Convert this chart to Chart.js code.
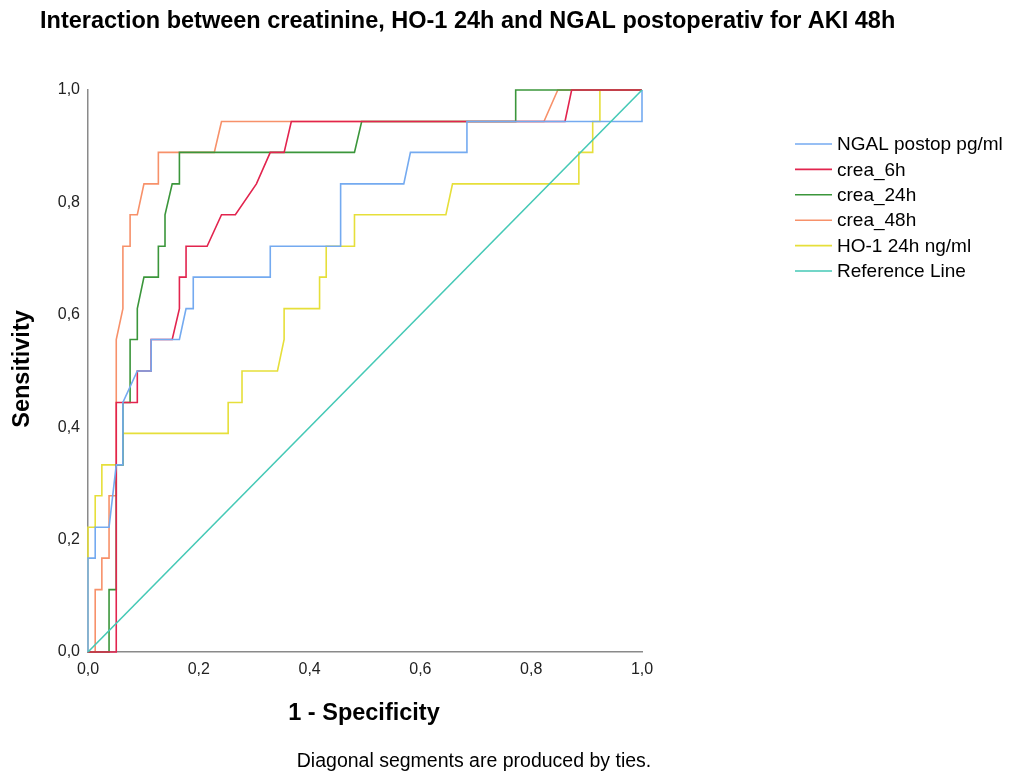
<!DOCTYPE html>
<html>
<head>
<meta charset="utf-8">
<script src="https://cdn.jsdelivr.net/npm/chart.js@4"></script>
<style>
  html, body { margin: 0; padding: 0; background: #fff; }
  canvas { display: block; }
</style>
</head>
<body>
<canvas id="roc" width="1018" height="776"></canvas>
<script>
// ROC curves, x = 1 - specificity, y = sensitivity
const ngalX = [0, 0, 0.013, 0.013, 0.038, 0.051, 0.063, 0.063, 0.089, 0.114, 0.114, 0.165, 0.177, 0.190, 0.190, 0.329, 0.329, 0.456, 0.456, 0.570, 0.582, 0.684, 0.684, 1, 1];
const ngalY = [0, 0.167, 0.167, 0.222, 0.222, 0.333, 0.333, 0.444, 0.5, 0.5, 0.556, 0.556, 0.611, 0.611, 0.667, 0.667, 0.722, 0.722, 0.833, 0.833, 0.889, 0.889, 0.944, 0.944, 1];

const crea6X = [0, 0.051, 0.051, 0.089, 0.089, 0.114, 0.114, 0.152, 0.165, 0.165, 0.177, 0.177, 0.215, 0.241, 0.266, 0.304, 0.329, 0.354, 0.367, 0.861, 0.873, 1];
const crea6Y = [0, 0, 0.444, 0.444, 0.5, 0.5, 0.556, 0.556, 0.611, 0.667, 0.667, 0.722, 0.722, 0.778, 0.778, 0.833, 0.889, 0.889, 0.944, 0.944, 1, 1];

const crea24X = [0, 0.038, 0.038, 0.051, 0.051, 0.063, 0.063, 0.076, 0.076, 0.089, 0.089, 0.101, 0.127, 0.127, 0.139, 0.139, 0.152, 0.165, 0.165, 0.481, 0.494, 0.772, 0.772, 1];
const crea24Y = [0, 0, 0.111, 0.111, 0.333, 0.333, 0.444, 0.444, 0.556, 0.556, 0.611, 0.667, 0.667, 0.722, 0.722, 0.778, 0.833, 0.833, 0.889, 0.889, 0.944, 0.944, 1, 1];

const crea48X = [0, 0.013, 0.013, 0.025, 0.025, 0.038, 0.038, 0.051, 0.051, 0.063, 0.063, 0.076, 0.076, 0.089, 0.101, 0.127, 0.127, 0.228, 0.241, 0.823, 0.848, 1];
const crea48Y = [0, 0, 0.111, 0.111, 0.167, 0.167, 0.278, 0.278, 0.556, 0.611, 0.722, 0.722, 0.778, 0.778, 0.833, 0.833, 0.889, 0.889, 0.944, 0.944, 1, 1];

const ho1X = [0, 0, 0.013, 0.013, 0.025, 0.025, 0.063, 0.063, 0.253, 0.253, 0.278, 0.278, 0.342, 0.354, 0.354, 0.418, 0.418, 0.430, 0.430, 0.481, 0.481, 0.646, 0.658, 0.886, 0.886, 0.911, 0.911, 0.924, 0.924, 1];
const ho1Y = [0, 0.222, 0.222, 0.278, 0.278, 0.333, 0.333, 0.389, 0.389, 0.444, 0.444, 0.5, 0.5, 0.556, 0.611, 0.611, 0.667, 0.667, 0.722, 0.722, 0.778, 0.778, 0.833, 0.833, 0.889, 0.889, 0.944, 0.944, 1, 1];

const refX = [0, 1];
const refY = [0, 1];

const seriesNames = ["NGAL postop pg/ml", "crea_6h", "crea_24h", "crea_48h", "HO-1 24h ng/ml", "Reference Line"];
const seriesColors = ["#74aaf0", "#e2244e", "#3b963b", "#f7916a", "#e6df3a", "#45c9b6"];
const tickValues = [0, 0.2, 0.4, 0.6, 0.8, 1.0];

const FONT = "'Liberation Sans', Arial, sans-serif";

function toPoints(xs, ys) {
  return xs.map((x, i) => ({ x: x, y: ys[i] }));
}

const allX = [ngalX, crea6X, crea24X, crea48X, ho1X, refX];
const allY = [ngalY, crea6Y, crea24Y, crea48Y, ho1Y, refY];

const datasets = seriesNames.map((name, i) => ({
  label: name,
  data: toPoints(allX[i], allY[i]),
  borderColor: seriesColors[i],
  borderWidth: 1.6,
  pointRadius: 0,
  showLine: true,
  tension: 0,
  clip: false,
  order: i === 5 ? -1 : i,
}));

// texts and legend drawn around the plot
const decorPlugin = {
  id: "decor",
  afterDraw(chart) {
    const ctx = chart.ctx;
    ctx.save();
    ctx.fillStyle = "#000";
    ctx.textBaseline = "middle";

    ctx.font = "bold 23.5px " + FONT;
    ctx.textAlign = "left";
    ctx.fillText("Interaction between creatinine, HO-1 24h and NGAL postoperativ for AKI 48h", 40, 22);

    ctx.font = "bold 23.5px " + FONT;
    ctx.textAlign = "center";
    ctx.fillText("1 - Specificity", 364, 714);

    ctx.save();
    ctx.translate(23, 369);
    ctx.rotate(-Math.PI / 2);
    ctx.fillText("Sensitivity", 0, 0);
    ctx.restore();

    ctx.font = "19.5px " + FONT;
    ctx.fillText("Diagonal segments are produced by ties.", 474, 762);

    // legend
    ctx.textAlign = "left";
    ctx.font = "19px " + FONT;
    seriesNames.forEach((name, i) => {
      const y = 144 + i * 25.4;
      ctx.strokeStyle = seriesColors[i];
      ctx.lineWidth = 1.6;
      ctx.beginPath();
      ctx.moveTo(795, y);
      ctx.lineTo(832, y);
      ctx.stroke();
      ctx.fillStyle = "#000";
      ctx.fillText(name, 837, y + 1);
    });
    ctx.restore();
  },
};

const fmt = (v) => v.toFixed(1).replace(".", ",");

new Chart(document.getElementById("roc"), {
  type: "scatter",
  data: { datasets: datasets },
  options: {
    responsive: false,
    animation: false,
    layout: { padding: { left: 0, top: 90, right: 376, bottom: 0 } },
    plugins: {
      legend: { display: false },
      title: { display: false },
      tooltip: { enabled: false },
    },
    scales: {
      x: {
        type: "linear",
        min: 0,
        max: 1,
        afterBuildTicks: (s) => { s.ticks = tickValues.map((v) => ({ value: v })); },
        afterFit: (s) => { s.height = 124; },
        grid: { display: false, drawTicks: false },
        border: { color: "#8a8a8a", width: 1.5 },
        ticks: { padding: 8, color: "#222", font: { family: FONT, size: 16 }, callback: fmt, maxRotation: 0 },
      },
      y: {
        type: "linear",
        min: 0,
        max: 1,
        afterBuildTicks: (s) => { s.ticks = tickValues.map((v) => ({ value: v })); },
        afterFit: (s) => { s.width = 88; },
        grid: { display: false, drawTicks: false },
        border: { color: "#8a8a8a", width: 1.5 },
        ticks: { padding: 8, color: "#222", font: { family: FONT, size: 16 }, callback: fmt },
      },
    },
  },
  plugins: [decorPlugin],
});
</script>
</body>
</html>
